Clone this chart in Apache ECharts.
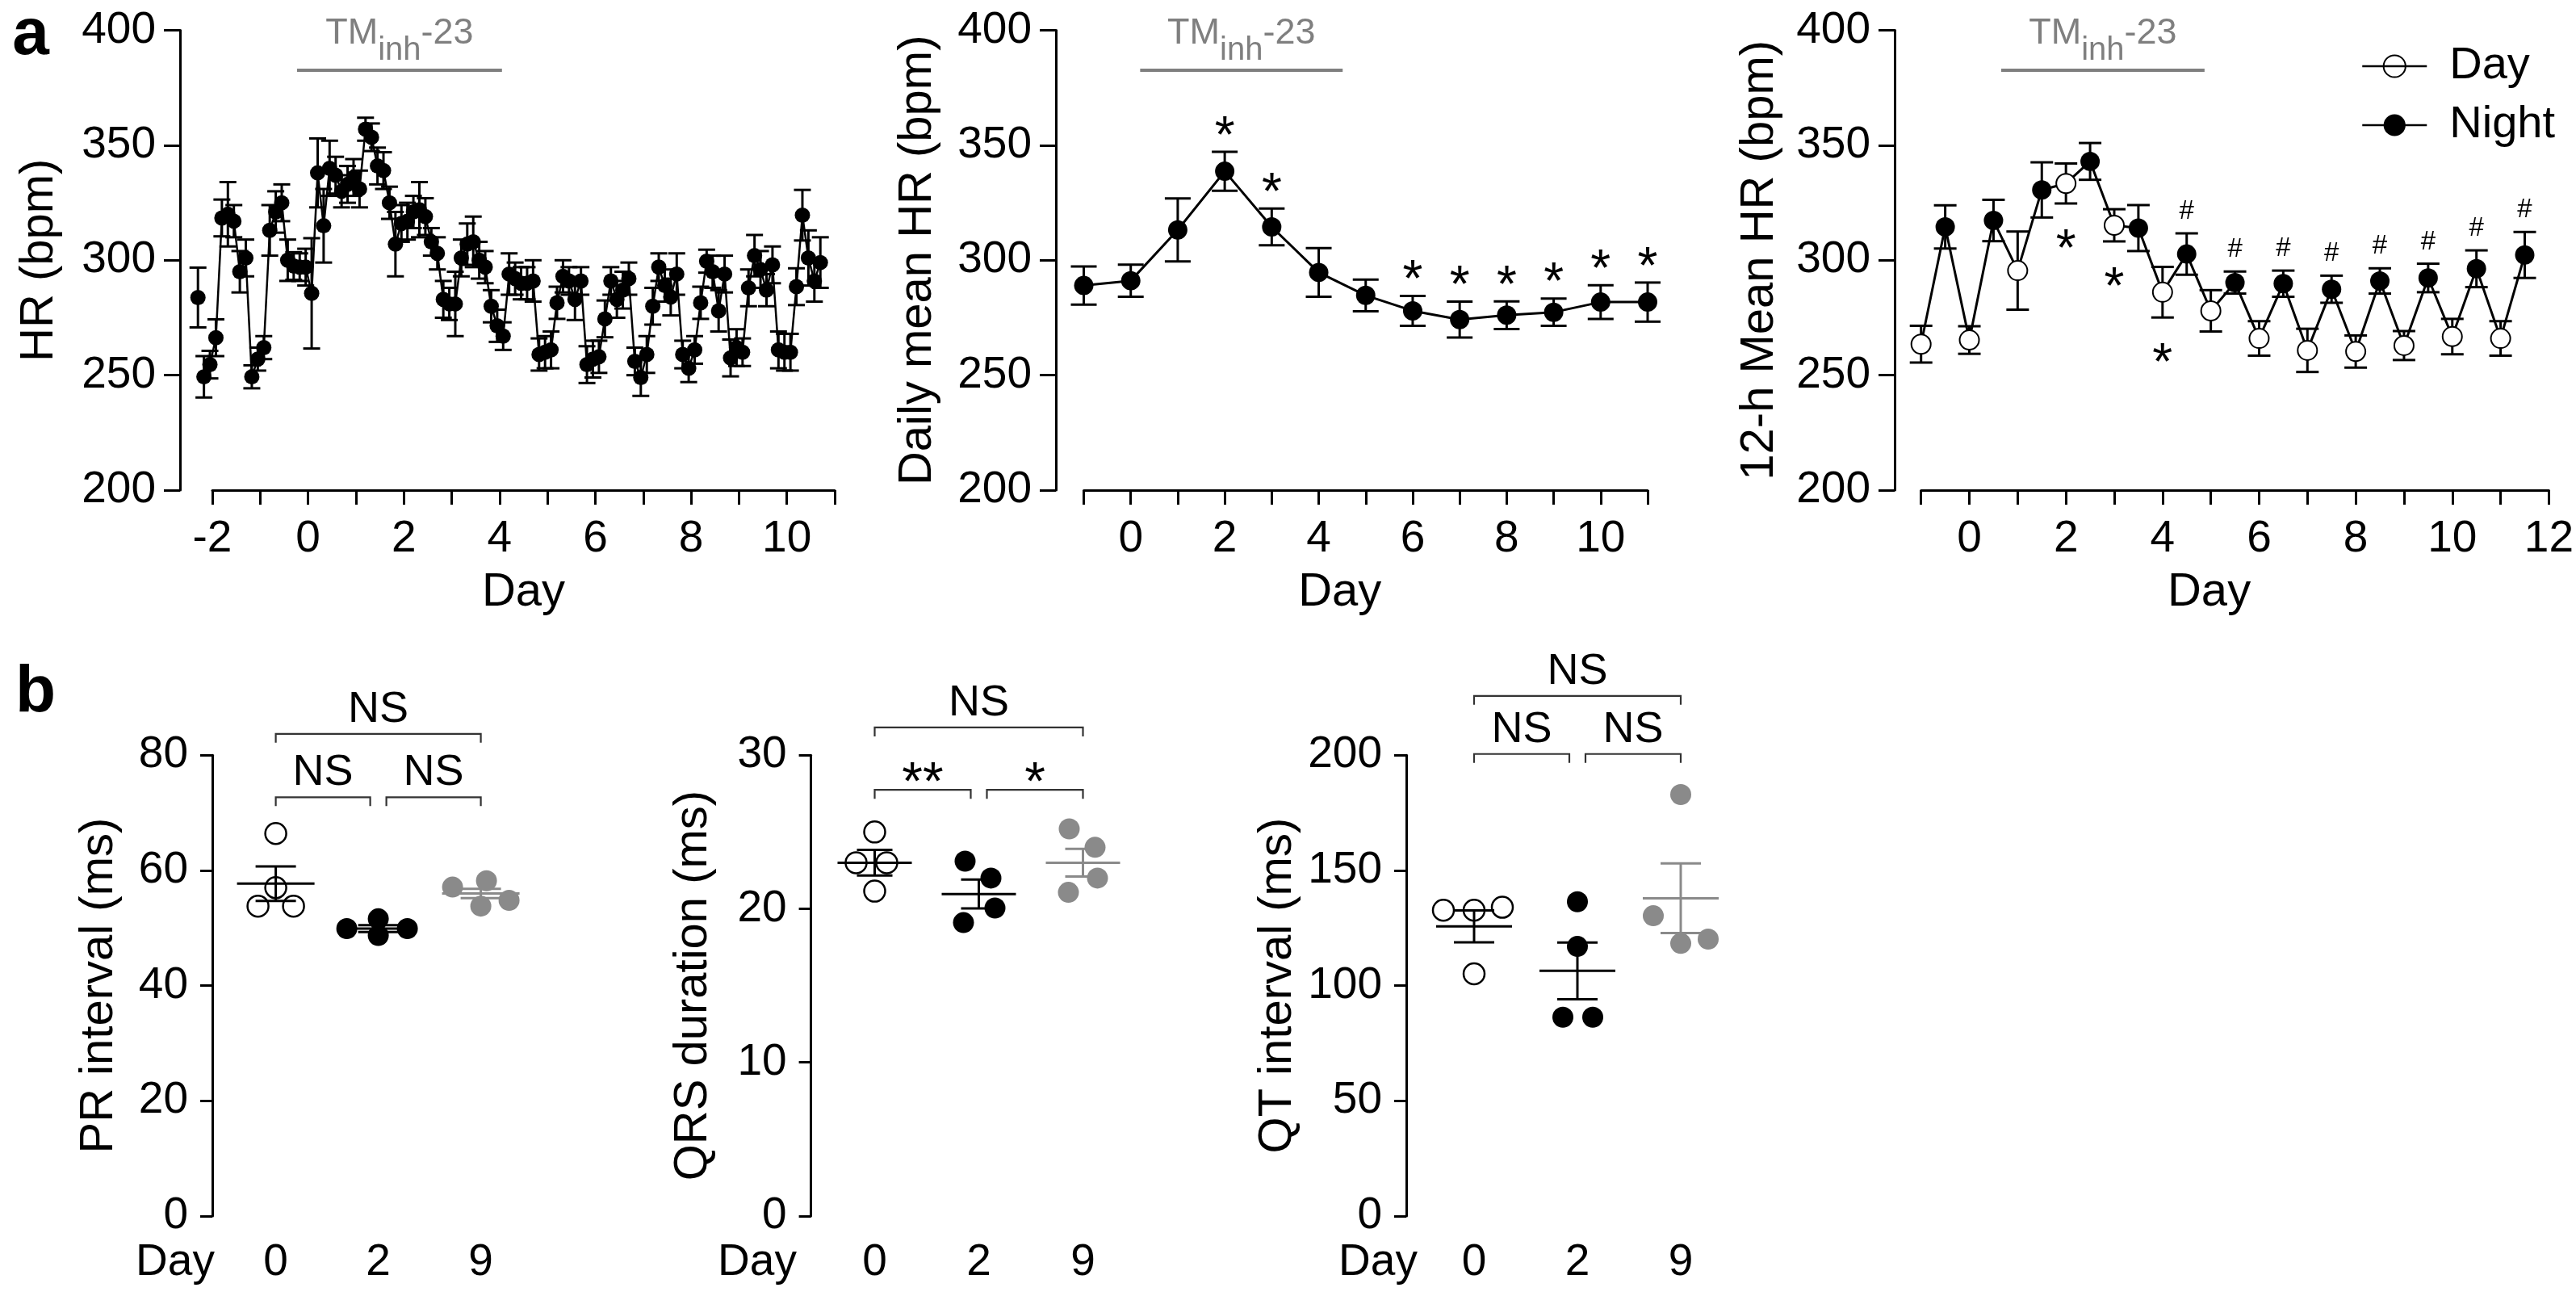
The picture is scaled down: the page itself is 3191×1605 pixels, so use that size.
<!DOCTYPE html>
<html><head><meta charset="utf-8">
<script src="https://cdn.jsdelivr.net/npm/echarts@6/dist/echarts.min.js"></script>
<style>html,body{margin:0;padding:0;background:#fff}#c{width:3191px;height:1605px}</style>
</head><body><div id="c"></div>
<script>
// ================= DATA =================
// Panel a (left): HR in 3-h bins
const hrStartDay = -2.3, hrBinDays = 0.125;
const hrMean = [283.8,249.3,254.6,266.3,318.4,320,317,295,301,249.3,257,262,313,321,325,300,297.5,297,297,285.6,
  338,315,340,337,330,333,336,331,357,353.5,341,339,325,307,316,317,321,322,319,308,
  303,283,281,281,301,307,308,300,297,280,271.5,267,294,292,290,290,291,259,260,261,
  281.5,293,291,283,291,254.6,257,258,274.5,291,283,287,292,256,249,259,280,297,289,284,
  294,259,253,261,281.5,299.6,295,278,294,257.5,262,260,288,302,296,287,298,261,260,260,
  288.5,319.6,301,291,299];
const hrSem = [13,9,6,8,8,14,7,9,8,5,5,5,11,9,8,9,6,6,8,24,
  15,16,12,8,7,8,8,8,5,6,8,8,7,14,8,8,7,12,8,6,
  7,8,7,14,8,9,11,8,7,7,7,6,9,7,7,7,9,7,7,8,
  7,7,6,9,6,8,8,7,8,6,8,8,7,6,8,8,8,6,7,8,
  9,6,6,6,7,5,7,9,8,8,8,6,8,9,8,7,8,8,8,8,
  8,11,12,9,11];

// Panel a (middle): daily mean HR
const dailyDays = [-1,0,1,2,3,4,5,6,7,8,9,10,11];
const dailyMean = [289,291.1,313.2,338.7,314.5,294.7,284.7,278,274.2,276.1,277.4,281.8,281.8];
const dailySem  = [8.3,7,13.7,8.5,8,10.6,6.9,6.5,7.8,6,5.9,7.3,8.5];
const dailyStarDays = [2,3,6,7,8,9,10,11];

// Panel a (right): 12-h means
const dayX = [-1,0,1,2,3,4,5,6,7,8,9,10,11];
const dayMean = [263.5,265.3,295.5,333.4,315.2,286.1,278,266,260.8,260.3,262.9,266.8,266];
const daySem  = [8,6,17,8.7,7,11,9,7.5,9.4,7,6.3,7.7,7.5];
const nightX = [-0.5,0.5,1.5,2.5,3.5,4.5,5.5,6.5,7.5,8.5,9.5,10.5,11.5];
const nightMean = [314.5,317.3,330.6,343,314,302.7,290.3,289.8,287.4,291,292.3,296.3,302.3];
const nightSem  = [9.4,9,12,8,10,9,4.8,5.7,5.9,5.5,6.2,8,10];
const dayStarX = [2,3,4];
const nightHashX = [4.5,5.5,6.5,7.5,8.5,9.5,10.5,11.5];

// Treatment period bars (days)
const tmSpanA1 = [-0.23, 4.05];
const tmSpanA2 = [0.2, 4.51];
const tmSpanA3 = [0.66, 4.87];
const tmLevel = 382.6;

// Panel b
const bDays = ['0','2','9'];
const prDay0 = [66.4,53.8,53.8,57.0], prDay2 = [49.9,51.6,48.7,49.9], prDay9 = [57.1,58.2,53.8,54.8];
const prMean = [57.7,49.9,56.0], prSem = [3.0,0.6,0.8];
const qrsDay0 = [25.0,23.0,23.0,21.15], qrsDay2 = [23.1,22.0,20.05,19.1], qrsDay9 = [25.2,24.0,22.0,21.07];
const qrsMean = [23.0,20.96,23.0], qrsSem = [0.83,0.94,0.9];
const qtDay0 = [132.7,132.7,134,105.1], qtDay2 = [136.4,117,86.3,86.3], qtDay9 = [182.9,130.3,118.3,120.2];
const qtMean = [125.7,106.4,137.9], qtSem = [6.9,12.3,15.1];
// horizontal jitter of dots (px)
const prJit  = [[0,-22,22,0],[-39,0,0,36],[-35,7,0,35]];
const qrsJit = [[0,-23,15,0],[-17,15,20,-19],[-17,15,18,-18]];
const qtJit  = [[-38,0,35,0],[0,0,-18,19],[0,-34,0,34]];
// significance brackets: [fromIdx, toIdx, level, label]
const prBrackets  = [[0,2,83.7,'NS'],[0,1,72.7,'NS'],[1,2,72.7,'NS']];
const qrsBrackets = [[0,2,31.8,'NS'],[0,1,27.74,'**'],[1,2,27.74,'*']];
const qtBrackets  = [[0,2,225.7,'NS'],[0,1,200.5,'NS'],[1,2,200.5,'NS']];

// ================= STYLE / HELPERS =================
const FONT = '"Liberation Sans", Arial, Helvetica, sans-serif';
const BLACK = '#000', GRAY = '#8a8a8a', TMGRAY = '#7f7f7f';
const TICK_FS = 55, NAME_FS = 58;

function errRender(capHalf, lw, colors, meanHalf) {
  return function (params, api) {
    const x = api.value(0), m = api.value(1), s = api.value(2);
    const p1 = api.coord([x, m + s]), p2 = api.coord([x, m - s]), pm = api.coord([x, m]);
    const c = colors ? colors[params.dataIndex] : BLACK;
    const mk = (x1, y1, x2, y2) => ({ type: 'line', shape: { x1, y1, x2, y2 }, style: { stroke: c, lineWidth: lw } });
    const ch = [mk(p1[0], p1[1], p2[0], p2[1]), mk(p1[0]-capHalf, p1[1], p1[0]+capHalf, p1[1]), mk(p2[0]-capHalf, p2[1], p2[0]+capHalf, p2[1])];
    if (meanHalf) ch.push(mk(pm[0]-meanHalf, pm[1], pm[0]+meanHalf, pm[1]));
    return { type: 'group', children: ch };
  };
}
function textRender(text, fontSize, dy) {
  return function (params, api) {
    const p = api.coord([api.value(0), api.value(1)]);
    return { type: 'text', x: p[0], y: p[1] + dy,
      style: { text, fontSize, fontFamily: FONT, fill: BLACK, align: 'center', verticalAlign: 'middle' } };
  };
}
function bracketRender(labels) {
  return function (params, api) {
    const a = api.value(0), lvl = api.value(1), b = api.value(2);
    const pa = api.coord([a, lvl]), pb = api.coord([b, lvl]);
    let x1 = pa[0], x2 = pb[0];
    if (b - a === 1) { if (b === 1) x2 -= 10; if (a === 1) x1 += 10; }
    const y = pa[1], st = () => ({ stroke: '#333', lineWidth: 2.2 });
    const lab = labels[params.dataIndex];
    const dy = lab.indexOf('*') >= 0 ? -6 : -30;
    return { type: 'group', children: [
      { type: 'polyline', shape: { points: [[x1, y + 11], [x1, y], [x2, y], [x2, y + 11]] }, style: Object.assign(st(), { fill: null }) },
      { type: 'text', x: (x1 + x2) / 2, y: y + dy, style: { text: lab, fontSize: lab.indexOf('*') >= 0 ? 66 : 54, fontFamily: FONT, fill: BLACK, align: 'center', verticalAlign: 'middle' } }
    ]};
  };
}
function tmMarkLine(span) {
  return {
    silent: true, symbol: 'none',
    lineStyle: { color: TMGRAY, width: 4, type: 'solid' },
    label: { show: true, position: 'insideMiddleTop', distance: 4, formatter: '{a|TM}{b|inh}{a|-23}',
      rich: { a: { fontSize: 45, color: TMGRAY, fontFamily: FONT, verticalAlign: 'bottom', padding: [0,0,19,0] },
              b: { fontSize: 40, color: TMGRAY, fontFamily: FONT, verticalAlign: 'bottom' } } },
    emphasis: { disabled: true },
    data: [[{ coord: [span[0], tmLevel] }, { coord: [span[1], tmLevel] }]]
  };
}
const axLine = { show: true, onZero: false, lineStyle: { color: BLACK, width: 3 } };
function xValAxis(grid, min, max, nameShift) {
  return { gridIndex: grid, type: 'value', min, max, interval: 1,
    axisLine: axLine, axisTick: { show: true, length: 18, lineStyle: { color: BLACK, width: 3 } },
    axisLabel: { formatter: v => (v % 2 === 0 ? String(v) : ''), fontSize: TICK_FS, color: BLACK, fontFamily: FONT, margin: 33 },
    splitLine: { show: false },
    name: 'Day', nameLocation: 'middle', nameGap: 98,
    nameTextStyle: { fontSize: NAME_FS, color: BLACK, fontFamily: FONT, padding: [0, nameShift, 0, 0] } };
}
function yAxis(grid, min, max, interval, offset, name, nameGap, tickLen) {
  return { gridIndex: grid, type: 'value', min, max, interval, offset,
    axisLine: axLine, axisTick: { show: true, length: tickLen, lineStyle: { color: BLACK, width: 3 } },
    axisLabel: { fontSize: TICK_FS, color: BLACK, fontFamily: FONT, margin: 30 },
    splitLine: { show: false },
    name, nameLocation: 'middle', nameGap, nameTextStyle: { fontSize: NAME_FS, color: BLACK, fontFamily: FONT } };
}
function catAxis(grid) {
  return { gridIndex: grid, type: 'category', data: bDays, boundaryGap: true,
    axisLine: { show: false, onZero: false }, axisTick: { show: false },
    axisLabel: { fontSize: TICK_FS, color: BLACK, fontFamily: FONT, margin: 30 } };
}
function dots(grid, vals, jit, style, size) {
  const out = [];
  vals.forEach((arr, g) => arr.forEach((v, i) => out.push({ value: [g, v], symbolOffset: [jit[g][i], 0], itemStyle: style[g] })));
  return { type: 'scatter', xAxisIndex: grid, yAxisIndex: grid, symbol: 'circle', symbolSize: size, data: out, z: 3, silent: true,
    itemStyle: { opacity: 1 } };
}
const dotStyles = [{ color: '#fff', borderColor: BLACK, borderWidth: 2.5, opacity: 1 }, { color: BLACK, opacity: 1 }, { color: GRAY, opacity: 1 }];

// ================= BUILD =================
const hrData = hrMean.map((v, i) => [hrStartDay + i * hrBinDays, v]);
const hrErr = hrMean.map((v, i) => [hrStartDay + i * hrBinDays, v, hrSem[i]]);
const dailyData = dailyDays.map((d, i) => [d, dailyMean[i]]);
const dailyErr = dailyDays.map((d, i) => [d, dailyMean[i], dailySem[i]]);
const dailyStars = dailyStarDays.map(d => { const i = dailyDays.indexOf(d); return [d, dailyMean[i] + dailySem[i]]; });
const halfDayLine = [];
dayX.forEach((d, i) => { halfDayLine.push([d, dayMean[i]]); halfDayLine.push([nightX[i], nightMean[i]]); });
const dayStars = dayStarX.map(d => { const i = dayX.indexOf(d); return [d, dayMean[i] - daySem[i]]; });
const nightHash = nightHashX.map(d => { const i = nightX.indexOf(d); return [d, nightMean[i] + nightSem[i]]; });

const option = {
  animation: false,
  backgroundColor: '#fff',
  textStyle: { fontFamily: FONT },
  grid: [
    { left: 263, top: 37.6, width: 771, height: 569.4 },
    { left: 1342.5, top: 37.6, width: 698.5, height: 569.4 },
    { left: 2379.7, top: 37.6, width: 779.3, height: 569.4 },
    { left: 278.1, top: 935.2, width: 381, height: 570.8 },
    { left: 1019, top: 935.2, width: 387, height: 570.8 },
    { left: 1762, top: 935.2, width: 384, height: 570.8 }
  ],
  xAxis: [ xValAxis(0, -2, 11, 0), xValAxis(1, -1, 11, 64), xValAxis(2, -1, 12, 64), catAxis(3), catAxis(4), catAxis(5) ],
  yAxis: [
    yAxis(0, 200, 400, 50, 40, 'HR (bpm)', 145, 20),
    yAxis(1, 200, 400, 50, 34.5, 'Daily mean HR (bpm)', 142, 20),
    yAxis(2, 200, 400, 50, 32.7, '12-h Mean HR (bpm)', 138, 20),
    yAxis(3, 0, 80, 20, 15.1, 'PR interval (ms)', 111, 15),
    yAxis(4, 0, 30, 10, 14.4, 'QRS duration (ms)', 117, 15),
    yAxis(5, 0, 200, 50, 20, 'QT interval (ms)', 130, 15)
  ],
  legend: {
    left: 2920, top: 49, orient: 'vertical', itemWidth: 80, itemHeight: 34, itemGap: 17,
    textStyle: { fontSize: 56, color: BLACK, fontFamily: FONT, padding: [0, 0, 0, 23], lineHeight: 56 },
    lineStyle: { color: BLACK, width: 2.5, opacity: 1, type: 'solid' },
    data: [{ name: 'Day', itemStyle: { color: 'rgba(255,255,255,0)', borderColor: BLACK, borderWidth: 2 } }, 'Night'], selectedMode: false
  },
  graphic: { elements: [
    { type: 'text', x: 38, y: 44, style: { text: 'a', fontSize: 82, fontWeight: 'bold', fontFamily: FONT, fill: BLACK, align: 'center', verticalAlign: 'middle' } },
    { type: 'text', x: 44, y: 858, style: { text: 'b', fontSize: 82, fontWeight: 'bold', fontFamily: FONT, fill: BLACK, align: 'center', verticalAlign: 'middle' } },
    { type: 'text', x: 217, y: 1564, style: { text: 'Day', fontSize: TICK_FS, fontFamily: FONT, fill: BLACK, align: 'center', verticalAlign: 'middle' } },
    { type: 'text', x: 938, y: 1564, style: { text: 'Day', fontSize: TICK_FS, fontFamily: FONT, fill: BLACK, align: 'center', verticalAlign: 'middle' } },
    { type: 'text', x: 1707, y: 1564, style: { text: 'Day', fontSize: TICK_FS, fontFamily: FONT, fill: BLACK, align: 'center', verticalAlign: 'middle' } }
  ] },
  series: [
    // ---- a1 ----
    { type: 'custom', xAxisIndex: 0, yAxisIndex: 0, data: hrErr, renderItem: errRender(10.5, 3), z: 2, silent: true, clip: false },
    { type: 'line', xAxisIndex: 0, yAxisIndex: 0, data: hrData, symbol: 'circle', symbolSize: 19, showSymbol: true,
      itemStyle: { color: BLACK }, lineStyle: { color: BLACK, width: 2.5 }, clip: false, z: 3, silent: true, markLine: tmMarkLine(tmSpanA1) },
    // ---- a2 ----
    { type: 'custom', xAxisIndex: 1, yAxisIndex: 1, data: dailyErr, renderItem: errRender(16, 3), z: 2, silent: true },
    { type: 'line', xAxisIndex: 1, yAxisIndex: 1, data: dailyData, symbol: 'circle', symbolSize: 24,
      itemStyle: { color: BLACK }, lineStyle: { color: BLACK, width: 3 }, z: 3, silent: true, markLine: tmMarkLine(tmSpanA2) },
    { type: 'custom', xAxisIndex: 1, yAxisIndex: 1, data: dailyStars, renderItem: textRender('*', 64, -17), z: 4, silent: true },
    // ---- a3 ----
    { type: 'line', xAxisIndex: 2, yAxisIndex: 2, data: halfDayLine, symbol: 'none', lineStyle: { color: BLACK, width: 3 }, z: 2, silent: true, markLine: tmMarkLine(tmSpanA3) },
    { type: 'custom', xAxisIndex: 2, yAxisIndex: 2, data: dayX.map((d, i) => [d, dayMean[i], daySem[i]]), renderItem: errRender(14, 3), z: 3, silent: true },
    { type: 'custom', xAxisIndex: 2, yAxisIndex: 2, data: nightX.map((d, i) => [d, nightMean[i], nightSem[i]]), renderItem: errRender(14, 3), z: 3, silent: true },
    { name: 'Day', type: 'line', xAxisIndex: 2, yAxisIndex: 2, data: dayX.map((d, i) => [d, dayMean[i]]), symbol: 'circle', symbolSize: 24,
      itemStyle: { color: '#fff', borderColor: BLACK, borderWidth: 2 }, lineStyle: { opacity: 0, width: 0 }, z: 4, silent: true },
    { name: 'Night', type: 'line', xAxisIndex: 2, yAxisIndex: 2, data: nightX.map((d, i) => [d, nightMean[i]]), symbol: 'circle', symbolSize: 24,
      itemStyle: { color: BLACK }, lineStyle: { opacity: 0, width: 0 }, z: 4, silent: true },
    { type: 'custom', xAxisIndex: 2, yAxisIndex: 2, data: dayStars, renderItem: textRender('*', 64, 59), z: 4, silent: true },
    { type: 'custom', xAxisIndex: 2, yAxisIndex: 2, data: nightHash, renderItem: textRender('#', 33, -27), z: 4, silent: true },
    // ---- b1 PR ----
    dots(3, [prDay0, prDay2, prDay9], prJit, dotStyles, 26),
    { type: 'custom', xAxisIndex: 3, yAxisIndex: 3, data: prMean.map((m, i) => [i, m, prSem[i]]), renderItem: errRender(25, 3, [BLACK, BLACK, GRAY], 48), z: 5, silent: true },
    { type: 'custom', xAxisIndex: 3, yAxisIndex: 3, data: prBrackets.map(b => [b[0], b[2], b[1]]), renderItem: bracketRender(prBrackets.map(b => b[3])), z: 5, silent: true },
    // ---- b2 QRS ----
    dots(4, [qrsDay0, qrsDay2, qrsDay9], qrsJit, dotStyles, 26),
    { type: 'custom', xAxisIndex: 4, yAxisIndex: 4, data: qrsMean.map((m, i) => [i, m, qrsSem[i]]), renderItem: errRender(22, 3, [BLACK, BLACK, GRAY], 46), z: 5, silent: true },
    { type: 'custom', xAxisIndex: 4, yAxisIndex: 4, data: qrsBrackets.map(b => [b[0], b[2], b[1]]), renderItem: bracketRender(qrsBrackets.map(b => b[3])), z: 5, silent: true },
    // ---- b3 QT ----
    dots(5, [qtDay0, qtDay2, qtDay9], qtJit, dotStyles, 26),
    { type: 'custom', xAxisIndex: 5, yAxisIndex: 5, data: qtMean.map((m, i) => [i, m, qtSem[i]]), renderItem: errRender(25, 3, [BLACK, BLACK, GRAY], 47), z: 5, silent: true },
    { type: 'custom', xAxisIndex: 5, yAxisIndex: 5, data: qtBrackets.map(b => [b[0], b[2], b[1]]), renderItem: bracketRender(qtBrackets.map(b => b[3])), z: 5, silent: true }
  ]
};
const chart = echarts.init(document.getElementById('c'), null, { renderer: 'canvas' });
chart.setOption(option);
</script></body></html>
